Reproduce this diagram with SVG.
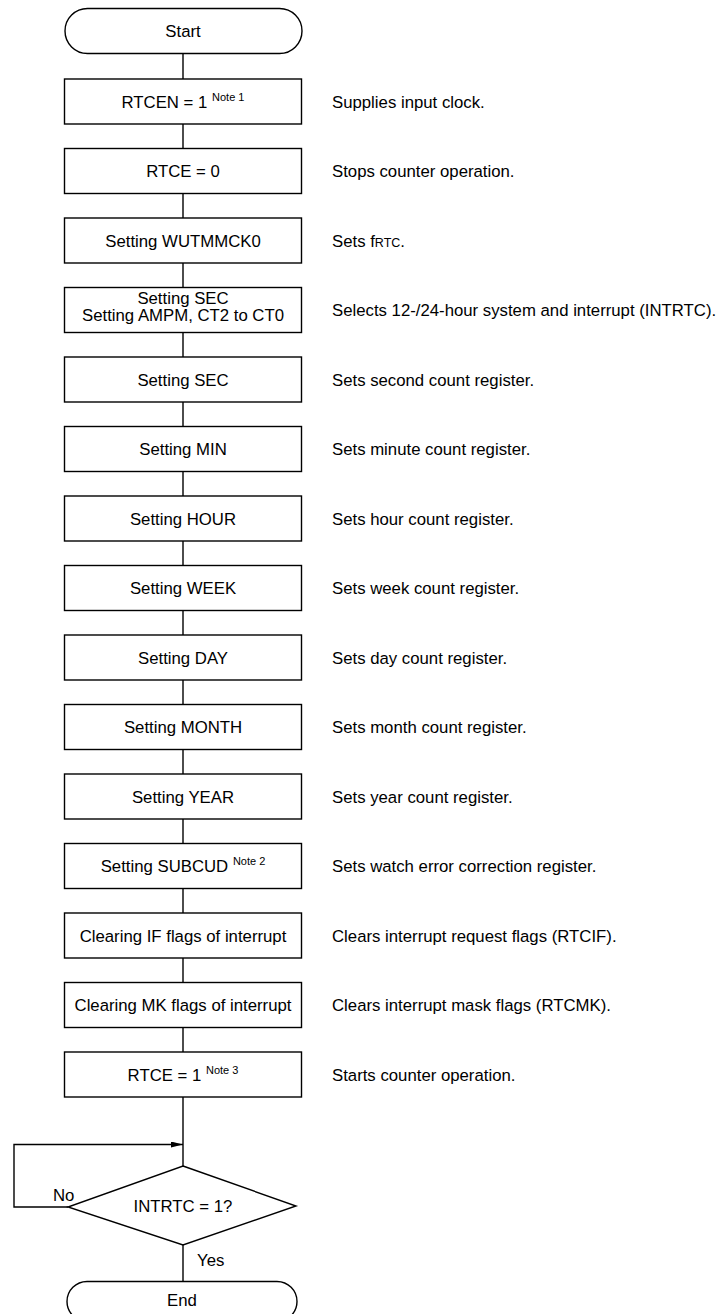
<svg xmlns="http://www.w3.org/2000/svg" width="724" height="1314" viewBox="0 0 724 1314">
<defs>
<style>
.shape{fill:#fff;stroke:#000;stroke-width:1.4}
.ln{fill:none;stroke:#000;stroke-width:1.4}
.t{font-family:"Liberation Sans",Arial,sans-serif;font-size:16.75px;fill:#000}
.c{text-anchor:middle}
.note{font-size:11px}
.sc{font-size:12.5px}
</style>
<marker id="arr" markerUnits="userSpaceOnUse" markerWidth="13" markerHeight="8" refX="12" refY="3" orient="auto">
<path d="M0,0 L12,3 L0,6 Z" fill="#000"/>
</marker>
</defs>
<rect width="724" height="1314" fill="#fff"/>
<g id="connectors">
<line class="ln" x1="183" y1="53.5" x2="183" y2="79"/>
<line class="ln" x1="183" y1="124" x2="183" y2="148.5"/>
<line class="ln" x1="183" y1="193.5" x2="183" y2="218"/>
<line class="ln" x1="183" y1="263" x2="183" y2="287.5"/>
<line class="ln" x1="183" y1="332.5" x2="183" y2="357"/>
<line class="ln" x1="183" y1="402" x2="183" y2="426.5"/>
<line class="ln" x1="183" y1="471.5" x2="183" y2="496"/>
<line class="ln" x1="183" y1="541" x2="183" y2="565.5"/>
<line class="ln" x1="183" y1="610.5" x2="183" y2="635"/>
<line class="ln" x1="183" y1="680" x2="183" y2="704.5"/>
<line class="ln" x1="183" y1="749.5" x2="183" y2="774"/>
<line class="ln" x1="183" y1="819" x2="183" y2="843.5"/>
<line class="ln" x1="183" y1="888.5" x2="183" y2="913"/>
<line class="ln" x1="183" y1="958" x2="183" y2="982.5"/>
<line class="ln" x1="183" y1="1027.5" x2="183" y2="1052"/>
<line class="ln" x1="183" y1="1097" x2="183" y2="1166"/>
<line class="ln" x1="183" y1="1245" x2="183" y2="1281.5"/>
<polyline class="ln" points="68,1207 14,1207 14,1144.5 183,1144.5" marker-end="url(#arr)"/>
</g>
<g id="start"><rect class="shape" x="65" y="8.5" width="237" height="45" rx="22.5"/><text class="t c" x="183" y="37">Start</text></g>
<g id="n0"><rect class="shape" x="64.5" y="79" width="237" height="45"/><text class="t c" x="183" y="107.5">RTCEN = 1 <tspan class="note" dy="-7">Note 1</tspan></text></g>
<g id="n1"><rect class="shape" x="64.5" y="148.5" width="237" height="45"/><text class="t c" x="183" y="177">RTCE = 0</text></g>
<g id="n2"><rect class="shape" x="64.5" y="218" width="237" height="45"/><text class="t c" x="183" y="246.5">Setting WUTMMCK0</text></g>
<g id="n3"><rect class="shape" x="64.5" y="287.5" width="237" height="45"/><text class="t c" x="183" y="303.5">Setting SEC</text><text class="t c" x="183" y="320.5">Setting AMPM, CT2 to CT0</text></g>
<g id="n4"><rect class="shape" x="64.5" y="357" width="237" height="45"/><text class="t c" x="183" y="385.5">Setting SEC</text></g>
<g id="n5"><rect class="shape" x="64.5" y="426.5" width="237" height="45"/><text class="t c" x="183" y="455">Setting MIN</text></g>
<g id="n6"><rect class="shape" x="64.5" y="496" width="237" height="45"/><text class="t c" x="183" y="524.5">Setting HOUR</text></g>
<g id="n7"><rect class="shape" x="64.5" y="565.5" width="237" height="45"/><text class="t c" x="183" y="594">Setting WEEK</text></g>
<g id="n8"><rect class="shape" x="64.5" y="635" width="237" height="45"/><text class="t c" x="183" y="663.5">Setting DAY</text></g>
<g id="n9"><rect class="shape" x="64.5" y="704.5" width="237" height="45"/><text class="t c" x="183" y="733">Setting MONTH</text></g>
<g id="n10"><rect class="shape" x="64.5" y="774" width="237" height="45"/><text class="t c" x="183" y="802.5">Setting YEAR</text></g>
<g id="n11"><rect class="shape" x="64.5" y="843.5" width="237" height="45"/><text class="t c" x="183" y="872">Setting SUBCUD <tspan class="note" dy="-7">Note 2</tspan></text></g>
<g id="n12"><rect class="shape" x="64.5" y="913" width="237" height="45"/><text class="t c" x="183" y="941.5">Clearing IF flags of interrupt</text></g>
<g id="n13"><rect class="shape" x="64.5" y="982.5" width="237" height="45"/><text class="t c" x="183" y="1011">Clearing MK flags of interrupt</text></g>
<g id="n14"><rect class="shape" x="64.5" y="1052" width="237" height="45"/><text class="t c" x="183" y="1080.5">RTCE = 1 <tspan class="note" dy="-7">Note 3</tspan></text></g>
<g id="decision"><polygon class="shape" points="183,1166 296,1206 183,1245 68,1207"/><text class="t c" x="183" y="1211.5">INTRTC = 1?</text></g>
<g id="end"><rect class="shape" x="67" y="1281.5" width="230" height="40" rx="20"/><text class="t c" x="182" y="1305.5">End</text></g>
<g id="labels">
<text class="t" x="53" y="1201">No</text>
<text class="t" x="197" y="1266">Yes</text>
</g>
<g id="descriptions">
<text class="t" x="332" y="107.5">Supplies input clock.</text>
<text class="t" x="332" y="177">Stops counter operation.</text>
<text class="t" x="332" y="246.5">Sets f<tspan class="sc">RTC</tspan>.</text>
<text class="t" x="332" y="316">Selects 12-/24-hour system and interrupt (INTRTC).</text>
<text class="t" x="332" y="385.5">Sets second count register.</text>
<text class="t" x="332" y="455">Sets minute count register.</text>
<text class="t" x="332" y="524.5">Sets hour count register.</text>
<text class="t" x="332" y="594">Sets week count register.</text>
<text class="t" x="332" y="663.5">Sets day count register.</text>
<text class="t" x="332" y="733">Sets month count register.</text>
<text class="t" x="332" y="802.5">Sets year count register.</text>
<text class="t" x="332" y="872">Sets watch error correction register.</text>
<text class="t" x="332" y="941.5">Clears interrupt request flags (RTCIF).</text>
<text class="t" x="332" y="1011">Clears interrupt mask flags (RTCMK).</text>
<text class="t" x="332" y="1080.5">Starts counter operation.</text>
</g>
</svg>
